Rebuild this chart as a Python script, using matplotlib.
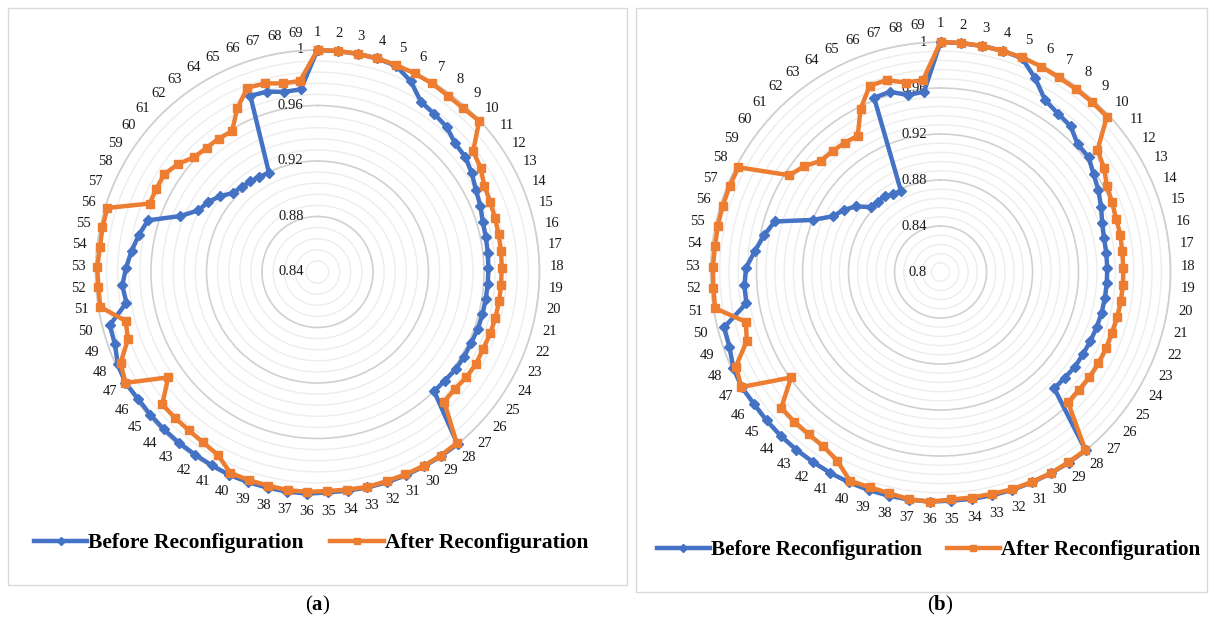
import numpy as np
import matplotlib.pyplot as plt
from matplotlib.lines import Line2D
from matplotlib.patches import Rectangle
from matplotlib.ticker import MultipleLocator

plt.rcParams['font.family'] = ['Liberation Serif', 'DejaVu Serif']
plt.rcParams['mathtext.fontset'] = 'custom'
plt.rcParams['mathtext.rm'] = 'Liberation Serif'
plt.rcParams['mathtext.bf'] = 'Liberation Serif:bold'

buses = list(range(1, 70))

# bus voltages (p.u.), case (a)
before_a = [1.0, 0.9999, 0.9999, 0.9998, 0.999, 0.993, 0.9835, 0.9816, 0.980, 0.9757,
            0.975, 0.972, 0.9686, 0.9667, 0.9645, 0.9639, 0.9635, 0.9632, 0.9630, 0.9628,
            0.9627, 0.9626, 0.9620, 0.9620, 0.9618, 0.9606, 0.9603, 0.9999, 0.9998, 0.9997,
            0.9997, 0.9996, 0.9994, 0.999, 0.999, 0.9999, 0.9998, 0.9996, 0.9995, 0.9995,
            0.9988, 0.9985, 0.9985, 0.9985, 0.9984, 0.9984, 0.9998, 0.9985, 0.995, 0.9945,
            0.9795, 0.981, 0.978, 0.9748, 0.9715, 0.9677, 0.9468, 0.9366, 0.9336, 0.929,
            0.9234, 0.9222, 0.9212, 0.9205, 0.9195, 0.9759, 0.975, 0.972, 0.9722]
after_a = [1.0, 1.0, 0.9999, 0.9998, 0.9996, 0.9993, 0.999, 0.998, 0.998, 0.9995,
           0.982, 0.9795, 0.9754, 0.9743, 0.9738, 0.9733, 0.9732, 0.9728, 0.9726, 0.9726,
           0.9724, 0.9722, 0.9716, 0.972, 0.9714, 0.970, 0.9706, 0.999, 0.9994, 0.9993,
           0.999, 0.9988, 0.999, 0.9983, 0.998, 0.9986, 0.9987, 0.998, 0.998, 0.9978,
           0.990, 0.988, 0.987, 0.987, 0.987, 0.9717, 0.9998, 0.9963, 0.985, 0.9826,
           0.9986, 0.9983, 0.9988, 0.9978, 0.9983, 0.9983, 0.9707, 0.9707, 0.971, 0.967,
           0.9614, 0.960, 0.9597, 0.9586, 0.9714, 0.982, 0.9812, 0.9782, 0.9783]

# bus voltages (p.u.), case (b)
before_b = [1.0, 0.9999, 0.9999, 0.9998, 0.999, 0.9874, 0.975, 0.9715, 0.970, 0.963,
            0.963, 0.958, 0.9546, 0.9507, 0.947, 0.9452, 0.9451, 0.945, 0.9449, 0.9447,
            0.9445, 0.944, 0.9435, 0.943, 0.943, 0.9418, 0.9415, 0.9999, 0.9997, 0.9996,
            0.9995, 0.9994, 0.9993, 0.9991, 0.999, 0.9999, 0.9998, 0.9997, 0.9996, 0.9995,
            0.9993, 0.999, 0.999, 0.999, 0.9988, 0.9987, 0.9998, 0.9985, 0.9948, 0.9943,
            0.971, 0.971, 0.9691, 0.9624, 0.9568, 0.9507, 0.920, 0.9054, 0.900, 0.8932,
            0.8826, 0.882, 0.8818, 0.879, 0.878, 0.9622, 0.9628, 0.9565, 0.9575]
after_b = [1.0, 1.0, 0.9999, 0.9997, 0.9997, 0.999, 0.998, 0.998, 0.998, 0.998,
           0.9728, 0.9686, 0.963, 0.961, 0.9596, 0.9597, 0.959, 0.959, 0.959, 0.9588,
           0.9586, 0.958, 0.9585, 0.9585, 0.9585, 0.958, 0.9586, 0.9997, 0.9993, 0.9995,
           0.999, 0.999, 0.998, 0.998, 0.998, 0.9999, 0.9995, 0.9975, 0.997, 0.998,
           0.987, 0.9827, 0.9818, 0.982, 0.982, 0.959, 1.0, 0.996, 0.9788, 0.9748,
           0.9986, 0.998, 0.998, 0.9974, 0.9978, 0.998, 0.998, 0.998, 0.9562, 0.95,
           0.942, 0.941, 0.940, 0.9386, 0.958, 0.9732, 0.9734, 0.9675, 0.9677]

series_labels = ['Before Reconfiguration', 'After Reconfiguration']

BLUE = '#4472C4'
ORANGE = '#ED7D31'
TEXT = '#1a1a1a'
LW = 3.2


def radar(ax, before, after, rmin, pad):
    """Draw one voltage radar: before/after lines with circular grid."""
    theta = np.linspace(0, 2 * np.pi, len(buses), endpoint=False)
    th = np.append(theta, theta[0])
    ax.set_theta_zero_location('N')
    ax.set_theta_direction(-1)
    ax.plot(th, np.append(before, before[0]), color=BLUE, lw=LW,
            marker='D', ms=5.5, zorder=3, clip_on=False)
    ax.plot(th, np.append(after, after[0]), color=ORANGE, lw=LW,
            marker='s', ms=6, zorder=4, clip_on=False)
    ax.set_ylim(rmin, 1.0)

    majors = np.arange(rmin, 1.0001, 0.04)
    ax.set_yticks(majors)
    ax.yaxis.set_minor_locator(MultipleLocator(0.008))
    ax.set_yticklabels([])
    ax.yaxis.grid(True, which='major', color='#D0D0D0', lw=1.2)
    ax.yaxis.grid(True, which='minor', color='#EDEDED', lw=1.0)
    ax.xaxis.grid(False)
    ax.spines['polar'].set_color('#D0D0D0')
    ax.spines['polar'].set_linewidth(1.2)
    ax.set_xticks(theta)
    ax.set_xticklabels(buses, fontsize=10.5, color=TEXT)
    ax.tick_params(axis='x', pad=pad, length=0)
    ax.tick_params(axis='y', which='both', length=0)

    # value labels along the vertical axis
    for v in majors:
        txt = f'{v:.2f}'.rstrip('0').rstrip('.')
        ax.annotate(txt, xy=(0, v), xytext=(-10, 0), textcoords='offset points',
                    ha='right', va='center', fontsize=10.5, color=TEXT, zorder=2)


fig = plt.figure(figsize=(12.1, 6.21), dpi=100)

# panel frames
fig.add_artist(Rectangle((8 / 1210, 1 - 585 / 621), 619 / 1210, 577 / 621,
                         transform=fig.transFigure, fill=False,
                         edgecolor='#D9D9D9', lw=1.0))
fig.add_artist(Rectangle((636 / 1210, 1 - 592 / 621), 571 / 1210, 584 / 621,
                         transform=fig.transFigure, fill=False,
                         edgecolor='#D9D9D9', lw=1.0))

ax_a = fig.add_axes([0.0789, 0.2045, 0.367, 0.715], projection='polar')
radar(ax_a, before_a, after_a, 0.84, 5.5)

ax_b = fig.add_axes([0.5872, 0.1916, 0.3802, 0.7407], projection='polar')
radar(ax_b, before_b, after_b, 0.80, 6.0)

handles = [Line2D([], [], color=BLUE, lw=LW, marker='D', ms=4.5),
           Line2D([], [], color=ORANGE, lw=LW, marker='s', ms=5)]
legend_style = dict(loc='center', ncol=2, frameon=False, handlelength=2.5,
                    handletextpad=0.05, columnspacing=1.2)
fig.legend(handles, series_labels, bbox_to_anchor=(0.257, 1 - 543 / 621),
           prop={'weight': 'bold', 'size': 15.5}, **legend_style)
fig.legend(handles, series_labels, bbox_to_anchor=(928.5 / 1210, 1 - 550 / 621),
           prop={'weight': 'bold', 'size': 15.2}, **legend_style)

fig.text(318 / 1210, 1 - 605 / 621, r'($\mathbf{a}$)', ha='center', va='center', fontsize=15)
fig.text(940 / 1210, 1 - 605 / 621, r'($\mathbf{b}$)', ha='center', va='center', fontsize=15)

fig.savefig('out.png', dpi=100, facecolor='white')
